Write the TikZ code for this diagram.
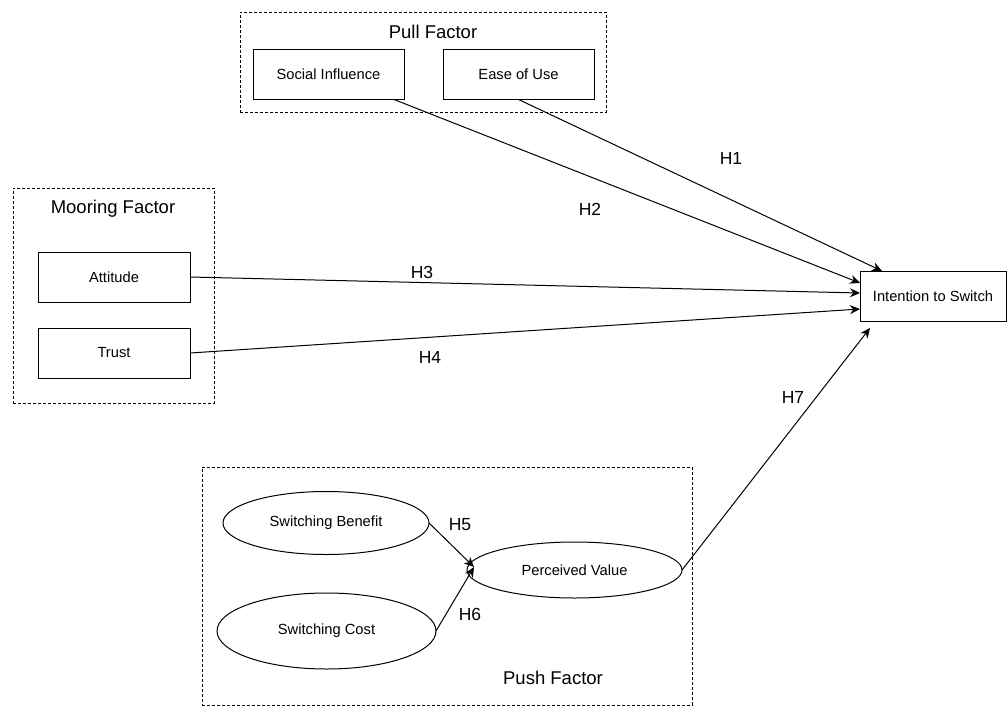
\documentclass[tikz,border=0pt]{standalone}
\usepackage{fontspec}
\setmainfont{Liberation Sans}
\usetikzlibrary{arrows.meta,shapes.geometric}

\begin{document}
\begin{tikzpicture}[
  x=1pt,y=-1pt,
  font=\fontsize{14.7}{17}\selectfont,
  factorbox/.style={draw,line width=1pt,inner sep=0pt,outer sep=0pt,minimum width=151pt,minimum height=50pt,align=center},
  factorellipse/.style={draw,ellipse,line width=1pt,inner sep=0pt,outer sep=0pt,align=center},
  groupbox/.style={draw,dashed,dash pattern=on 3pt off 2pt,line width=0.9pt,inner sep=0pt,outer sep=0pt},
  grouptitle/.style={font=\fontsize{18.5}{21}\selectfont},
  hypothesis/.style={font=\fontsize{17.5}{20}\selectfont},
  arrow/.style={-{Stealth[length=10pt,width=9pt]},line width=1pt}
]
  \useasboundingbox (0,0) rectangle (1008,707);
  % groups
  \node[groupbox,minimum width=366pt,minimum height=100pt] (pullgroup) at (423,62) {};
  \node[groupbox,minimum width=201pt,minimum height=215pt] (mooringgroup) at (113.5,295.5) {};
  \node[groupbox,minimum width=490pt,minimum height=238pt] (pushgroup) at (447,586) {};
  \node[grouptitle] (pulltitle) at (433,32) {Pull Factor};
  \node[grouptitle] (mooringtitle) at (113,209) {Mooring Factor};
  \node[grouptitle] (pushtitle) at (553,678) {Push Factor};
  % factors
  \node[factorbox] (social) at (328.5,74.5) {Social Influence};
  \node[factorbox] (ease) at (518.5,74.5) {Ease of Use};
  \node[factorbox,minimum width=152pt] (attitude) at (114,277) {Attitude};
  \node[factorbox,minimum width=152pt] (trust) at (114,353) {Trust};
  \node[factorbox,minimum width=146pt] (intention) at (933,296) {Intention to Switch};
  \node[factorellipse,minimum width=206pt,minimum height=63pt] (benefit) at (326,523) {Switching Benefit};
  \node[factorellipse,minimum width=219pt,minimum height=76pt] (cost) at (326.5,631) {Switching Cost};
  \node[factorellipse,minimum width=215pt,minimum height=56pt] (perceived) at (574.5,570) {Perceived Value};
  \coordinate (pvin) at ([xshift=7pt,yshift=3pt]perceived.west);
  % hypotheses
  \draw[arrow] (ease.south) -- ([xshift=22pt]intention.north west);
  \draw[arrow] ([xshift=-10pt]social.south east) -- ([yshift=13pt]intention.west);
  \draw[arrow] (attitude.east) -- ([yshift=3pt]intention.west);
  \draw[arrow] (trust.east) -- ([yshift=-13pt]intention.west);
  \draw[arrow] (benefit.east) -- (pvin);
  \draw[arrow] (cost.east) -- (pvin);
  \draw[arrow] (perceived.east) -- ([xshift=10pt,yshift=-7pt]intention.south west);
  \node[hypothesis] (h1) at (731,158) {H1};
  \node[hypothesis] (h2) at (590,209) {H2};
  \node[hypothesis] (h3) at (422,272) {H3};
  \node[hypothesis] (h4) at (430,357) {H4};
  \node[hypothesis] (h5) at (460,525) {H5};
  \node[hypothesis] (h6) at (470,614) {H6};
  \node[hypothesis] (h7) at (793,397) {H7};
\end{tikzpicture}
\end{document}
